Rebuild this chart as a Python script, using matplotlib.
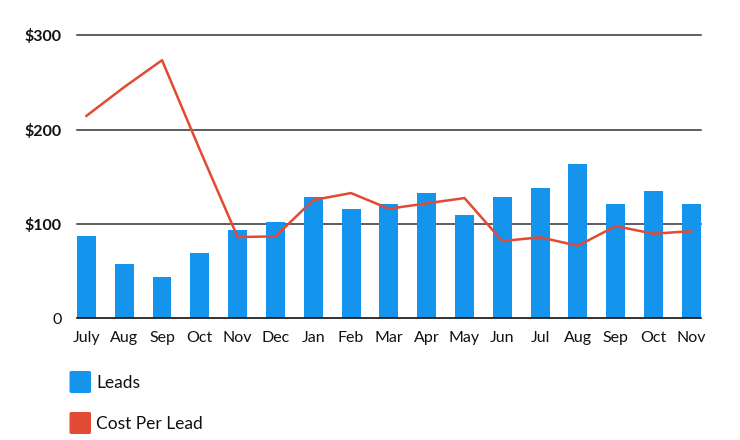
import matplotlib
matplotlib.use("Agg")
import matplotlib.pyplot as plt
from matplotlib.patches import FancyBboxPatch
from matplotlib.transforms import ScaledTranslation
import numpy as np

months = ["July", "Aug", "Sep", "Oct", "Nov", "Dec", "Jan", "Feb", "Mar",
          "Apr", "May", "Jun", "Jul", "Aug", "Sep", "Oct", "Nov"]
leads = [87.5, 57.5, 43.4, 68.8, 93.2, 101.7, 128.1, 115.4, 120.7,
         132.4, 109.7, 128.1, 137.7, 163.1, 120.7, 134.5, 120.7]
cost_per_lead = [214.5, 245, 273.5, 178.5, 86.1, 86.8, 125.3, 132.7, 116.1,
                 121.8, 127.4, 81.9, 85.8, 76.9, 97.7, 89.6, 92.4]
yticks = [0, 100, 200, 300]
ytick_labels = ["0", "$100", "$200", "$300"]
legend_labels = ["Leads", "Cost Per Lead"]

bar_color = "#1594EE"
line_color = "#E24A33"

plt.rcParams['font.family'] = ['Lato', 'DejaVu Sans']

fig = plt.figure(figsize=(7.4, 4.4), dpi=100)
ax = fig.add_axes([0.104, 0.2766, 0.843, 0.6434])

x = np.arange(len(months))
ax.bar(x, leads, width=0.5, color=bar_color, zorder=2)
ax.plot(x, cost_per_lead, color=line_color, lw=1.8, zorder=3)

ax.set_xlim(-0.25, len(months) - 0.75)
ax.set_ylim(0, 300)
ax.set_yticks(yticks)
ax.set_yticklabels(ytick_labels, fontweight='bold', fontsize=11.5)
ylabs = ax.get_yticklabels()
ylabs[0].set_fontweight('normal')
ylabs[0].set_transform(ylabs[0].get_transform() +
                       ScaledTranslation(0, 4 / 72, fig.dpi_scale_trans))
ax.set_xticks(x)
ax.set_xticklabels(months, fontsize=11.5)
ax.tick_params(axis='both', length=0, colors='#111111')
ax.tick_params(axis='y', pad=11)
ax.tick_params(axis='x', pad=9)

for y in yticks[1:]:
    ax.axhline(y, color='#333333', lw=1.1, zorder=1, clip_on=False)

for s in ['top', 'right', 'left']:
    ax.spines[s].set_visible(False)
ax.spines['bottom'].set_color('#111111')
ax.spines['bottom'].set_linewidth(1.2)
ax.spines['bottom'].set_zorder(4)

W, H = 740, 440
for i, (lab, col) in enumerate(zip(legend_labels, [bar_color, line_color])):
    y0 = 371 + i * 41
    box = FancyBboxPatch((69.5 / W, 1 - (y0 + 22) / H), 21.5 / W, 22 / H,
                         boxstyle="round,pad=0,rounding_size=0.003",
                         transform=fig.transFigure, facecolor=col,
                         edgecolor='none')
    fig.add_artist(box)
    fig.text(96 / W, 1 - (y0 + 11.5) / H, lab, fontsize=12.5,
             va='center', ha='left', color='#111111')

fig.savefig("out.png", dpi=100)
